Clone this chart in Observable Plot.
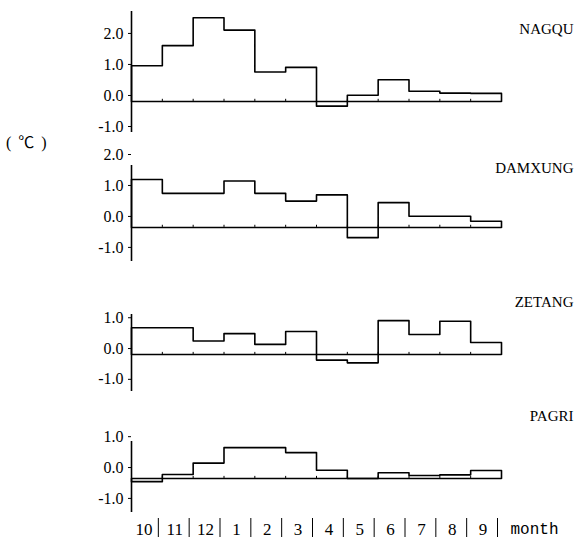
<!DOCTYPE html>
<html>
<head>
<meta charset="utf-8">
<script src="https://cdn.jsdelivr.net/npm/d3@7"></script>
<script src="https://cdn.jsdelivr.net/npm/@observablehq/plot@0.6"></script>
<style>
  html, body { margin: 0; padding: 0; background: #fff; }
  #chart { position: relative; width: 578px; height: 550px; overflow: hidden; background: #fff; }
  #chart svg { position: absolute; left: 0; overflow: visible; }
  .unit { position: absolute; left: 6px; top: 133px; font: 16px "Liberation Serif", "Noto Sans CJK SC", serif; color: #000; line-height: 20px; letter-spacing: 1.5px; white-space: pre; }
  g[aria-label="month-word"] text { letter-spacing: 2.5px; }
</style>
</head>
<body>
<div id="chart"><div class="unit">( ℃ )</div></div>
<script>
// Month categories (Oct .. Sep)
const months = ["10", "11", "12", "1", "2", "3", "4", "5", "6", "7", "8", "9"];
const stations = ["NAGQU", "DAMXUNG", "ZETANG", "PAGRI"];
// Monthly temperature anomaly values (°C)
const nagqu   = [1.15, 1.8, 2.7, 2.3, 0.95, 1.1, -0.15, 0.2, 0.7, 0.33, 0.27, 0.26];
const damxung = [1.55, 1.1, 1.1, 1.5, 1.1, 0.85, 1.05, -0.33, 0.8, 0.36, 0.36, 0.2];
const zetang  = [0.87, 0.87, 0.44, 0.68, 0.33, 0.75, -0.18, -0.27, 1.1, 0.65, 1.08, 0.39];
const pagri   = [-0.1, 0.13, 0.5, 1.0, 1.0, 0.84, 0.27, 0.0, 0.19, 0.1, 0.12, 0.26];
// y-axis tick values per panel
const ticksBig = [-1, 0, 1, 2];
const ticksSmall = [-1, 0, 1];

const container = document.getElementById("chart");
const SERIF = '"Liberation Serif", serif';
const MONO = '"Liberation Mono", monospace';

function panel({name, values, domain, ticks, top, frameH, mt, mb, labelDy, nameDy, bottomAxis}) {
  const n = values.length;
  const pts = [{x: 0, y: 0}].concat(values.map((v, i) => ({x: i, y: v})), [{x: n, y: values[n - 1]}, {x: n, y: 0}]);
  const bounds = d3.range(1, n);
  const marks = [
    Plot.ruleY([0], {stroke: "#000", strokeWidth: 1.4}),
    Plot.ruleX(bounds, {y1: 0, y2: 0.07, stroke: "#000", strokeWidth: 1}),
    Plot.line(pts, {x: "x", y: "y", curve: "step-after", stroke: "#000", strokeWidth: 1.6}),
    Plot.ruleX([0], {stroke: "#000", strokeWidth: 1.6}),
    Plot.axisY({ticks, tickSize: 3, tickPadding: 5, tickFormat: d => d.toFixed(1), dy: labelDy, fontSize: 16, fontFamily: SERIF, fill: "#000", label: null}),
    Plot.text([name], {frameAnchor: "top-right", dx: 72, dy: nameDy, textAnchor: "end", fontSize: 15, fontFamily: SERIF, fill: "#000"})
  ];
  if (bottomAxis) {
    marks.push(
      Plot.text(months, {x: (d, i) => i + 0.5, frameAnchor: "bottom", dx: -3, dy: 22, fontSize: 17, fontFamily: SERIF, fill: "#000"}),
      Plot.ruleX(d3.range(1, n + 1), {dx: -4, insetTop: frameH + 6, insetBottom: -25, stroke: "#000", strokeWidth: 1}),
      Plot.text(["month"], {x: () => n, frameAnchor: "bottom", dx: 9, dy: 21, textAnchor: "start", fontSize: 16, fontFamily: MONO, fill: "#000", ariaLabel: "month-word"})
    );
  }
  const svg = Plot.plot({
    width: 578,
    height: frameH + mt + mb,
    marginLeft: 131,
    marginRight: 77,
    marginTop: mt,
    marginBottom: mb,
    style: {fontFamily: SERIF, fontSize: "15px", color: "#000", background: "transparent"},
    x: {domain: [0, n], axis: null},
    y: {domain, axis: null},
    marks
  });
  svg.style.top = (top - mt) + "px";
  container.appendChild(svg);
}

panel({name: stations[0], values: nagqu,   domain: [-1.0, 2.9], ticks: ticksBig,   top: 11,  frameH: 121, mt: 10, mb: 6,  labelDy: -6,  nameDy: 12,  bottomAxis: false});
panel({name: stations[1], values: damxung, domain: [-1.1, 2.0], ticks: ticksBig,   top: 165, frameH: 96,  mt: 10, mb: 6,  labelDy: -11, nameDy: -3,  bottomAxis: false});
panel({name: stations[2], values: zetang,  domain: [-1.2, 1.3], ticks: ticksSmall, top: 314, frameH: 77,  mt: 30, mb: 6,  labelDy: -6,  nameDy: -18, bottomAxis: false});
panel({name: stations[3], values: pagri,   domain: [-1.1, 1.2], ticks: ticksSmall, top: 441, frameH: 71,  mt: 35, mb: 40, labelDy: -11, nameDy: -31, bottomAxis: true});
</script>
</body>
</html>
